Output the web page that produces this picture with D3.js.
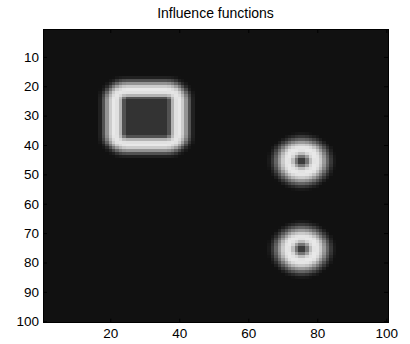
<!DOCTYPE html>
<html>
<head>
<meta charset="utf-8">
<script src="https://cdn.jsdelivr.net/npm/d3@7"></script>
<style>
  html, body { margin: 0; padding: 0; background: #fff; }
  svg { display: block; }
  text { font-family: "Liberation Sans", Arial, sans-serif; fill: #000; }
</style>
</head>
<body>
<div id="chart"></div>
<script>
// Grid size (rows x columns of the influence map)
const gridSize = 100;

// Rectangular obstacle: column and row extents (inclusive)
const blockCols = [25, 36];
const blockRows = [25, 36];

// Point obstacles: centre column / row
const pointCols = [75.5, 75.5];
const pointRows = [45.5, 75.5];

// Influence level versus distance from the rectangular obstacle
const blockDist  = [0, 1, 2, 3, 4, 5, 6, 7, 8, 9];
const blockLevel = [0.2, 0.32, 0.7, 0.88, 0.91, 0.8, 0.58, 0.32, 0.13, 0.067];

// Influence level versus distance from a point obstacle
const pointDist  = [0, 1, 2, 3, 4, 5, 6, 7, 8, 9, 10];
const pointLevel = [0.15, 0.27, 0.6, 0.86, 0.92, 0.88, 0.72, 0.5, 0.3, 0.14, 0.067];

// Background level of the map
const baseLevel = 0.067;

// Tick labels
const xTicks = [20, 40, 60, 80, 100];
const yTicks = [10, 20, 30, 40, 50, 60, 70, 80, 90, 100];

const chartTitle = "Influence functions";

const W = 410, H = 344;
const margin = { left: 43, right: 22, top: 29, bottom: 21.3 };

const svg = d3.select("#chart").append("svg")
  .attr("width", W).attr("height", H);

const x = d3.scaleLinear().domain([0.5, gridSize + 0.5]).range([margin.left, W - margin.right]);
const y = d3.scaleLinear().domain([0.5, gridSize + 0.5]).range([margin.top, H - margin.bottom]);

const blockScale = d3.scaleLinear().domain(blockDist).range(blockLevel).clamp(true);
const pointScale = d3.scaleLinear().domain(pointDist).range(pointLevel).clamp(true);
const gray = d3.scaleLinear().domain([0, 1]).range(["#000000", "#ffffff"]);

// Build cell values: strongest influence among all obstacles
const cells = [];
for (let r = 1; r <= gridSize; r++) {
  for (let c = 1; c <= gridSize; c++) {
    const dc = Math.max(blockCols[0] - c, 0, c - blockCols[1]);
    const dr = Math.max(blockRows[0] - r, 0, r - blockRows[1]);
    let v = Math.max(baseLevel, blockScale(Math.hypot(dc, dr)));
    pointCols.forEach((pc, i) => {
      v = Math.max(v, pointScale(Math.hypot(c - pc, r - pointRows[i])));
    });
    cells.push({ r, c, v });
  }
}

svg.append("g")
  .attr("shape-rendering", "crispEdges")
  .selectAll("rect")
  .data(cells)
  .join("rect")
  .attr("x", d => x(d.c - 0.5))
  .attr("y", d => y(d.r - 0.5))
  .attr("width", d => x(d.c + 0.5) - x(d.c - 0.5) + 0.05)
  .attr("height", d => y(d.r + 0.5) - y(d.r - 0.5) + 0.05)
  .attr("fill", d => gray(d.v));

const tickLen = 4;

function styleAxis(g, showText) {
  g.select(".domain").remove();
  g.selectAll(".tick line").attr("stroke", "#000");
  g.selectAll(".tick text")
    .style("font-size", "13.5px")
    .style("font-family", "'Liberation Sans', Arial, sans-serif")
    .attr("fill", "#000");
  if (!showText) g.selectAll(".tick text").remove();
}

svg.append("g")
  .attr("transform", `translate(0,${y(gridSize + 0.5)})`)
  .call(d3.axisBottom(x).tickValues(xTicks).tickSizeInner(-tickLen).tickSizeOuter(0).tickPadding(6))
  .call(g => styleAxis(g, true));

svg.append("g")
  .attr("transform", `translate(0,${y(0.5)})`)
  .call(d3.axisTop(x).tickValues(xTicks).tickSizeInner(-tickLen).tickSizeOuter(0))
  .call(g => styleAxis(g, false));

svg.append("g")
  .attr("transform", `translate(${x(0.5)},0)`)
  .call(d3.axisLeft(y).tickValues(yTicks).tickSizeInner(-tickLen).tickSizeOuter(0).tickPadding(4))
  .call(g => styleAxis(g, true));

svg.append("g")
  .attr("transform", `translate(${x(gridSize + 0.5)},0)`)
  .call(d3.axisRight(y).tickValues(yTicks).tickSizeInner(-tickLen).tickSizeOuter(0))
  .call(g => styleAxis(g, false));

// Axes box
svg.append("rect")
  .attr("x", x(0.5)).attr("y", y(0.5))
  .attr("width", x(gridSize + 0.5) - x(0.5))
  .attr("height", y(gridSize + 0.5) - y(0.5))
  .attr("fill", "none").attr("stroke", "#000").attr("stroke-width", 1)
  .attr("shape-rendering", "crispEdges");

svg.append("text")
  .attr("x", (x(0.5) + x(gridSize + 0.5)) / 2)
  .attr("y", 18)
  .attr("text-anchor", "middle")
  .style("font-size", "14px")
  .text(chartTitle);
</script>
</body>
</html>
